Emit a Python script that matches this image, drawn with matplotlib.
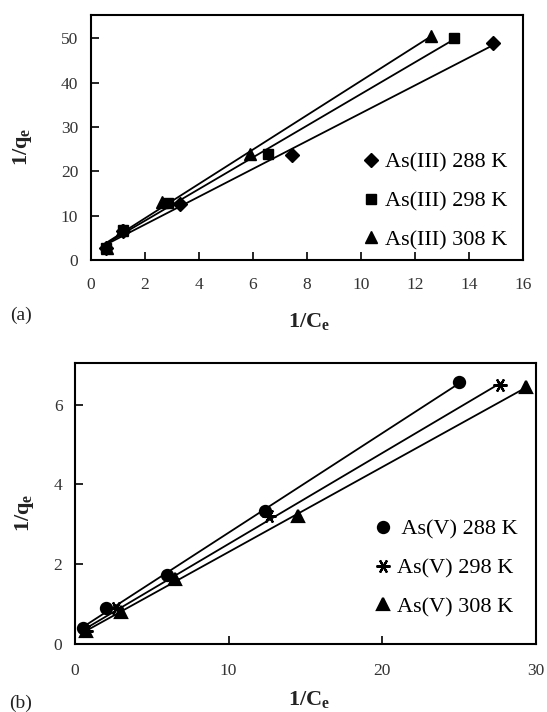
import numpy as np
import matplotlib
matplotlib.use("Agg")
import matplotlib.pyplot as plt

plt.rcParams['font.family'] = ['Liberation Serif', 'DejaVu Serif']
plt.rcParams['mathtext.fontset'] = 'custom'
plt.rcParams['mathtext.rm'] = 'Liberation Serif'
plt.rcParams['mathtext.bf'] = 'Liberation Serif:bold'

# (a) As(III): 1/Ce vs 1/qe
x_288_a = [0.55, 1.2, 3.3, 7.45, 14.9]
y_288_a = [2.7, 6.5, 12.6, 23.8, 49.0]
x_298_a = [0.55, 1.2, 2.85, 6.55, 13.45]
y_298_a = [2.6, 6.8, 12.9, 24.0, 50.1]
x_308_a = [0.6, 1.15, 2.65, 5.9, 12.6]
y_308_a = [2.6, 6.8, 13.1, 24.0, 50.5]

# (b) As(V)
x_288_b = [0.5, 2.0, 6.0, 12.35, 25.0]
y_288_b = [0.4, 0.9, 1.72, 3.32, 6.56]
x_298_b = [0.75, 2.7, 6.3, 12.65, 27.7]
y_298_b = [0.33, 0.9, 1.62, 3.2, 6.5]
x_308_b = [0.75, 3.0, 6.5, 14.5, 29.4]
y_308_b = [0.33, 0.8, 1.62, 3.2, 6.45]

labels_a = ['As(III) 288 K', 'As(III) 298 K', 'As(III) 308 K']
labels_b = [' As(V) 288 K', 'As(V) 298 K', 'As(V) 308 K']

W, H = 547, 712
fig = plt.figure(figsize=(W / 100, H / 100), dpi=100)
txt = '#222222'


def fit_line(ax, x, y):
    k, b0 = np.polyfit(x, y, 1)
    xx = np.array([min(x), max(x)])
    ax.plot(xx, k * xx + b0, color='black', lw=1.3, zorder=2)


def style(ax, xpad, ypad):
    ax.tick_params(direction='in', length=6, width=1.2, labelsize=12.5, labelcolor='#333333')
    ax.tick_params(axis='x', pad=xpad)
    ax.tick_params(axis='y', pad=ypad)
    for s in ax.spines.values():
        s.set_linewidth(1.5)


leg_kw = dict(loc='upper left', frameon=False, fontsize=16, handlelength=0.8,
              handletextpad=0.25, labelspacing=0.82, borderpad=0, borderaxespad=0,
              bbox_transform=fig.transFigure)

# panel (a)
ax1 = fig.add_axes([90.7 / W, 1 - 260 / H, 432.3 / W, 245 / H])
series_a = [(x_288_a, y_288_a, 'D', 7), (x_298_a, y_298_a, 's', 7), (x_308_a, y_308_a, '^', 8.5)]
for (x, y, m, ms), lab in zip(series_a, labels_a):
    fit_line(ax1, x, y)
    ax1.plot(x, y, ls='none', marker=m, ms=ms, color='black', label=lab, zorder=3)
ax1.set_xlim(0, 16)
ax1.set_ylim(0, 55.3)
ax1.set_xticks(range(0, 17, 2))
ax1.set_yticks(range(0, 51, 10))
style(ax1, 12, 9)
ax1.legend(bbox_to_anchor=(361.8 / W, 1 - 152 / H), **leg_kw)

# panel (b)
ax2 = fig.add_axes([74.9 / W, 1 - 644 / H, 460.8 / W, 281 / H])
series_b = [(x_288_b, y_288_b, 'o', 8), (x_298_b, y_298_b, (6, 2, 90), 10), (x_308_b, y_308_b, '^', 8.5)]
for (x, y, m, ms), lab in zip(series_b, labels_b):
    fit_line(ax2, x, y)
    ax2.plot(x, y, ls='none', marker=m, ms=ms, mew=1.6, color='black', label=lab, zorder=3)
ax2.set_xlim(0, 30)
ax2.set_ylim(0, 7.04)
ax2.set_xticks([0, 10, 20, 30])
ax2.set_yticks([0, 2, 4, 6])
style(ax2, 14, 9)
ax2.legend(bbox_to_anchor=(374 / W, 1 - 519 / H), **leg_kw)

# axis labels and panel tags
lab_kw = dict(fontsize=16, color=txt, ha='center', va='center')
fig.text(23 / W, 1 - 147 / H, r'$\mathbf{1/q}_\mathbf{e}$', rotation=90, **lab_kw)
fig.text(25 / W, 1 - 513 / H, r'$\mathbf{1/q}_\mathbf{e}$', rotation=90, **lab_kw)
fig.text(309 / W, 1 - 322 / H, r'$\mathbf{1/C}_\mathbf{e}$', **lab_kw)
fig.text(309 / W, 1 - 700 / H, r'$\mathbf{1/C}_\mathbf{e}$', **lab_kw)
fig.text(21 / W, 1 - 315 / H, '(a)', fontsize=14, color=txt, ha='center', va='center')
fig.text(21 / W, 1 - 703 / H, '(b)', fontsize=14, color=txt, ha='center', va='center')

fig.savefig('out.png', dpi=100)
